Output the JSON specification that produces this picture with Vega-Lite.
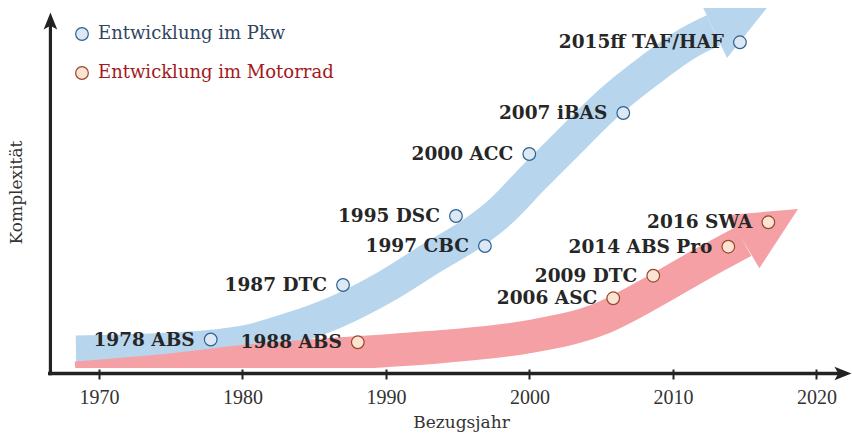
{
  "$schema": "https://vega.github.io/schema/vega-lite/v6.json",
  "width": 800,
  "height": 360,
  "autosize": {"type": "none"},
  "padding": {"left": 50, "top": 8, "right": 2, "bottom": 68},
  "background": "white",
  "config": {
    "view": {"stroke": null},
    "legend": {"orient": "none", "padding": 0, "labelFont": "DejaVu Serif", "labelFontSize": 18, "labelOffset": 7, "labelLimit": 400, "symbolSize": 160, "symbolStrokeWidth": 1.2, "symbolType": "circle"}
  },
  "datasets": {
    "pkw_band": [
      {"year": 1968.40, "v": 16}, {"year": 1973.56, "v": 18}, {"year": 1978.02, "v": 22}, {"year": 1980.11, "v": 26},
      {"year": 1983.31, "v": 39}, {"year": 1986.52, "v": 56}, {"year": 1989.94, "v": 81}, {"year": 1993.07, "v": 109},
      {"year": 1996.56, "v": 140}, {"year": 1997.95, "v": 156}, {"year": 2000.25, "v": 190}, {"year": 2002.62, "v": 224},
      {"year": 2005.61, "v": 266}, {"year": 2008.40, "v": 298}, {"year": 2011.19, "v": 326}, {"year": 2012.84, "v": 337.9}
    ],
    "moto_band": [
      {"year": 1968.40, "v": -10}, {"year": 1974.25, "v": -3}, {"year": 1979.97, "v": 6.4}, {"year": 1988.12, "v": 15.5},
      {"year": 1994.12, "v": 21.7}, {"year": 1999.83, "v": 31}, {"year": 2004.92, "v": 49}, {"year": 2008.61, "v": 76},
      {"year": 2011.89, "v": 103}, {"year": 2014.92, "v": 126.5}
    ],
    "pkw_head": [{"year": 2014.84, "v": 351.6}],
    "moto_head": [{"year": 2016.82, "v": 142.7}],
    "events": [
      {"series": "Entwicklung im Pkw", "label": "1978 ABS", "year": 1977.79, "v": 28.5},
      {"series": "Entwicklung im Pkw", "label": "1987 DTC", "year": 1987.01, "v": 83},
      {"series": "Entwicklung im Pkw", "label": "1995 DSC", "year": 1994.88, "v": 152},
      {"series": "Entwicklung im Pkw", "label": "1997 CBC", "year": 1996.90, "v": 122},
      {"series": "Entwicklung im Pkw", "label": "2000 ACC", "year": 1999.99, "v": 214},
      {"series": "Entwicklung im Pkw", "label": "2007 iBAS", "year": 2006.54, "v": 255},
      {"series": "Entwicklung im Pkw", "label": "2015ff TAF/HAF", "year": 2014.67, "v": 325.7},
      {"series": "Entwicklung im Motorrad", "label": "1988 ABS", "year": 1988.04, "v": 25.7},
      {"series": "Entwicklung im Motorrad", "label": "2006 ASC", "year": 2005.84, "v": 69.7},
      {"series": "Entwicklung im Motorrad", "label": "2009 DTC", "year": 2008.63, "v": 92.3},
      {"series": "Entwicklung im Motorrad", "label": "2014 ABS Pro", "year": 2013.86, "v": 121.3},
      {"series": "Entwicklung im Motorrad", "label": "2016 SWA", "year": 2016.65, "v": 145.7}
    ]
  },
  "layer": [
    {
      "data": {"name": "pkw_band"},
      "mark": {"type": "line", "strokeWidth": 33, "strokeCap": "butt", "strokeJoin": "round", "color": "#b7d6ee", "interpolate": "monotone", "clip": true},
      "encoding": {
        "x": {
          "field": "year", "type": "quantitative", "title": "Bezugsjahr",
          "scale": {"domain": [1966.59, 2022.34], "nice": false, "zero": false},
          "axis": {
            "values": [1970, 1980, 1990, 2000, 2010, 2020], "format": "d", "domain": false, "grid": false,
            "ticks": true, "tickSize": 10, "tickWidth": 2, "tickColor": "#222222", "offset": 1,
            "labelFont": "Liberation Serif", "labelFontSize": 20, "labelColor": "#333333", "labelPadding": 8,
            "titleFont": "DejaVu Serif", "titleFontSize": 17, "titleFontWeight": "normal", "titleColor": "#333333",
            "titleX": 411, "titleY": 53, "titleAlign": "center", "titleBaseline": "middle"
          }
        },
        "y": {
          "field": "v", "type": "quantitative", "title": "Komplexität",
          "scale": {"domain": [0, 360], "nice": false, "zero": false},
          "axis": {
            "domain": false, "ticks": false, "labels": false, "grid": false,
            "titleFont": "DejaVu Serif", "titleFontSize": 17, "titleFontWeight": "normal", "titleColor": "#333333",
            "titleX": -34, "titleY": 184, "titleAngle": 270, "titleAlign": "center", "titleBaseline": "middle"
          }
        }
      }
    },
    {
      "data": {"name": "pkw_head"},
      "mark": {"type": "point", "shape": "M1,0L-1,-0.976L-1,0.976Z", "filled": true, "fill": "#b7d6ee", "strokeWidth": 0, "size": 4032, "angle": 334.5, "opacity": 1, "clip": true},
      "encoding": {"x": {"field": "year", "type": "quantitative"}, "y": {"field": "v", "type": "quantitative"}}
    },
    {
      "data": {"name": "moto_band"},
      "mark": {"type": "line", "strokeWidth": 33, "strokeCap": "butt", "strokeJoin": "round", "color": "#f5a0a4", "interpolate": "monotone", "clip": true},
      "encoding": {"x": {"field": "year", "type": "quantitative"}, "y": {"field": "v", "type": "quantitative"}}
    },
    {
      "data": {"name": "moto_head"},
      "mark": {"type": "point", "shape": "M1,0L-1,-0.976L-1,0.976Z", "filled": true, "fill": "#f5a0a4", "strokeWidth": 0, "size": 4032, "angle": 329.2, "opacity": 1, "clip": true},
      "encoding": {"x": {"field": "year", "type": "quantitative"}, "y": {"field": "v", "type": "quantitative"}}
    },
    {
      "data": {"name": "pkw_head"},
      "mark": {"type": "rule", "strokeWidth": 3.5, "color": "#222222"},
      "encoding": {
        "x": {"datum": 1966.45, "type": "quantitative"},
        "x2": {"datum": 2021.6},
        "y": {"datum": -5.5, "type": "quantitative"}
      }
    },
    {
      "data": {"name": "pkw_head"},
      "mark": {"type": "rule", "strokeWidth": 3.2, "color": "#222222"},
      "encoding": {
        "x": {"datum": 1966.62, "type": "quantitative"},
        "y": {"datum": -7.3, "type": "quantitative"},
        "y2": {"datum": 345}
      }
    },
    {
      "data": {"name": "pkw_head"},
      "mark": {"type": "point", "shape": "M1,0L-1,-0.8L-0.55,0L-1,0.8Z", "filled": true, "fill": "#222222", "strokeWidth": 0, "size": 289, "angle": 0, "opacity": 1},
      "encoding": {
        "x": {"datum": 2021.85, "type": "quantitative"},
        "y": {"datum": -5.5, "type": "quantitative"}
      }
    },
    {
      "data": {"name": "pkw_head"},
      "mark": {"type": "point", "shape": "M1,0L-1,-0.8L-0.55,0L-1,0.8Z", "filled": true, "fill": "#222222", "strokeWidth": 0, "size": 289, "angle": 270, "opacity": 1},
      "encoding": {
        "x": {"datum": 1966.62, "type": "quantitative"},
        "y": {"datum": 347, "type": "quantitative"}
      }
    },
    {
      "data": {"name": "events"},
      "transform": [{"filter": "datum.series === 'Entwicklung im Pkw'"}],
      "mark": {"type": "point", "shape": "circle", "filled": true, "size": 160, "stroke": "#2e6190", "strokeWidth": 1.2, "opacity": 1},
      "encoding": {
        "x": {"field": "year", "type": "quantitative"},
        "y": {"field": "v", "type": "quantitative"},
        "fill": {
          "field": "series", "type": "nominal",
          "scale": {"domain": ["Entwicklung im Pkw"], "range": ["#dce9f5"]},
          "legend": {"title": null, "legendX": 23, "legendY": 17, "labelColor": "#2f4560", "symbolStrokeColor": "#2e6190"}
        }
      }
    },
    {
      "data": {"name": "events"},
      "transform": [{"filter": "datum.series === 'Entwicklung im Motorrad'"}],
      "mark": {"type": "point", "shape": "circle", "filled": true, "fill": "#fde3d4", "size": 160, "strokeWidth": 1.2, "opacity": 1},
      "encoding": {
        "x": {"field": "year", "type": "quantitative"},
        "y": {"field": "v", "type": "quantitative"},
        "stroke": {
          "field": "series", "type": "nominal",
          "scale": {"domain": ["Entwicklung im Motorrad"], "range": ["#934a2b"]},
          "legend": {"title": null, "legendX": 23, "legendY": 56, "labelColor": "#a3191c", "symbolFillColor": "#fde3d4"}
        }
      }
    },
    {
      "data": {"name": "events"},
      "mark": {"type": "text", "align": "right", "baseline": "middle", "dx": -16, "font": "DejaVu Serif", "fontSize": 18.5, "fontWeight": "bold", "color": "#262626"},
      "encoding": {
        "x": {"field": "year", "type": "quantitative"},
        "y": {"field": "v", "type": "quantitative"},
        "text": {"field": "label", "type": "nominal"}
      }
    }
  ]
}
